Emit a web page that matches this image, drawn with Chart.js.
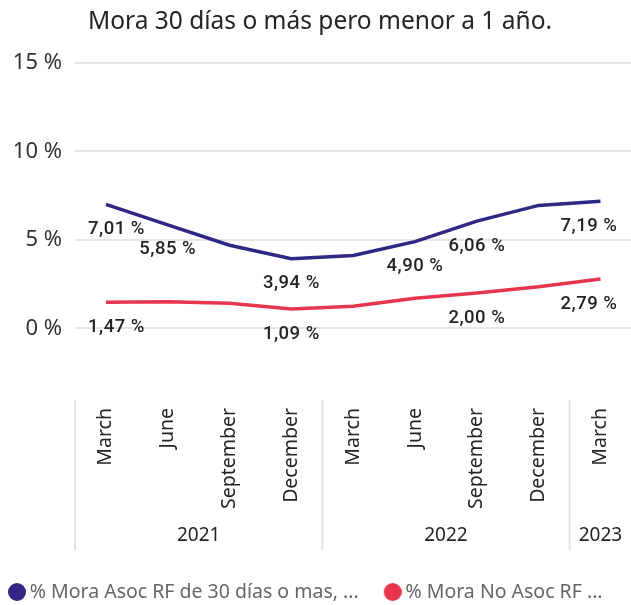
<!DOCTYPE html>
<html><head><meta charset="utf-8">
<script src="https://cdn.jsdelivr.net/npm/chart.js@4/dist/chart.umd.min.js"></script>
<style>
html,body{margin:0;padding:0;background:#fff;overflow:hidden;width:631px;height:605px}
#wrap{position:absolute;left:0;top:0;width:640px;height:605px}
</style></head><body>
<div id="wrap"><canvas id="c" width="640" height="605"></canvas></div>
<script>
const months = ['March','June','September','December','March','June','September','December','March'];
const years = ['2021','2021','2021','2021','2022','2022','2022','2022','2023'];
const asocValues = [7.01, 5.85, 4.70, 3.94, 4.12, 4.90, 6.06, 6.95, 7.19];
const noAsocValues = [1.47, 1.50, 1.42, 1.09, 1.25, 1.70, 2.00, 2.35, 2.79];
const asocLabelIdx = [0, 1, 3, 5, 6, 8];
const noAsocLabelIdx = [0, 3, 6, 8];
const seriesNames = ['% Mora Asoc RF de 30 días o mas, ...', '% Mora No Asoc RF ...'];
const yTickValues = [0, 5, 10, 15];
const titleText = 'Mora 30 días o más pero menor a 1 año.';

const BLUE = '#2f2784';
const RED = '#e8354f';
const fmt = v => v.toFixed(2).replace('.', ',') + ' %';

// legend marker: circle placed at the right part of a small canvas so the gap to the text is small
function marker(color) {
  const c = document.createElement('canvas');
  c.width = 24; c.height = 18;
  const g = c.getContext('2d');
  g.fillStyle = color;
  g.beginPath();
  g.arc(15, 9, 9, 0, Math.PI * 2);
  g.fill();
  return c;
}

const titlePlugin = {
  id: 'centeredTitle',
  afterDraw(chart) {
    const ctx = chart.ctx;
    ctx.save();
    ctx.font = '24.5px "Noto Sans"';
    ctx.fillStyle = '#252423';
    ctx.textAlign = 'center';
    ctx.textBaseline = 'middle';
    ctx.fillText(titleText, chart.width / 2, 22);
    ctx.restore();
  }
};

const labelPlugin = {
  id: 'valueLabels',
  afterDatasetsDraw(chart) {
    const ctx = chart.ctx, a = chart.chartArea;
    ctx.save();
    ctx.font = '500 18.5px Roboto';
    try { ctx.letterSpacing = '0.5px'; } catch (e) {}
    ctx.fillStyle = '#252423';
    ctx.textBaseline = 'middle';
    ctx.textAlign = 'left';
    chart.data.datasets.forEach((ds, di) => {
      const meta = chart.getDatasetMeta(di);
      ds.labelIdx.forEach(i => {
        const p = meta.data[i];
        const txt = fmt(ds.data[i]);
        const w = ctx.measureText(txt).width;
        let x = p.x - w / 2;
        x = Math.max(a.left + 13, Math.min(a.right - 14 - w, x));
        ctx.fillText(txt, x, p.y + 25);
      });
    });
    ctx.restore();
  }
};

const yearPlugin = {
  id: 'yearGroups',
  afterDraw(chart) {
    const ctx = chart.ctx, xs = chart.scales.x;
    const half = (xs.getPixelForValue(1) - xs.getPixelForValue(0)) / 2;
    ctx.save();
    ctx.strokeStyle = '#e3e3e3';
    ctx.lineWidth = 2;
    ctx.fillStyle = '#252423';
    ctx.font = '19px "Noto Sans"';
    ctx.textAlign = 'center';
    ctx.textBaseline = 'middle';
    let start = 0;
    for (let i = 1; i <= years.length; i++) {
      if (i === years.length || years[i] !== years[start]) {
        const l = xs.getPixelForValue(start) - half;
        const r = xs.getPixelForValue(i - 1) + half;
        ctx.beginPath();
        ctx.moveTo(l, xs.top + 8);
        ctx.lineTo(l, xs.bottom - 7);
        ctx.stroke();
        ctx.fillText(years[start], (l + r) / 2, xs.bottom - 21.5);
        start = i;
      }
    }
    ctx.restore();
  }
};

new Chart(document.getElementById('c'), {
  type: 'line',
  data: {
    labels: months,
    datasets: [
      { label: seriesNames[0], data: asocValues, labelIdx: asocLabelIdx, borderColor: BLUE, backgroundColor: BLUE, borderWidth: 3.5, pointRadius: 0, pointStyle: marker(BLUE), tension: 0 },
      { label: seriesNames[1], data: noAsocValues, labelIdx: noAsocLabelIdx, borderColor: RED, backgroundColor: RED, borderWidth: 3.5, pointRadius: 0, pointStyle: marker(RED), tension: 0 }
    ]
  },
  options: {
    responsive: false,
    animation: false,
    devicePixelRatio: 1,
    layout: { padding: { left: -17, right: 2, top: 63, bottom: -6.75 } },
    plugins: {
      title: { display: false },
      legend: {
        position: 'bottom', align: 'start',
        labels: { usePointStyle: true, boxWidth: 12, boxHeight: 12, color: '#666', font: { family: 'Noto Sans', size: 19.5 }, padding: 25 }
      },
      tooltip: { enabled: false }
    },
    scales: {
      x: {
        offset: true,
        grid: { display: false, drawTicks: false },
        border: { display: false },
        ticks: { color: '#252423', font: { family: 'Noto Sans', size: 19.5 }, minRotation: 90, maxRotation: 90, padding: 16, autoSkip: false },
        afterFit(s) { s.height = 165.25; }
      },
      y: {
        min: -3.6, max: 15,
        afterBuildTicks(s) { s.ticks = yTickValues.map(v => ({ value: v })); },
        afterFit(s) { s.width = 92; },
        grid: { color: '#e6e6e6', lineWidth: 2, drawTicks: false },
        border: { display: false },
        ticks: { color: '#333', font: { family: 'Noto Sans', size: 22 }, padding: 13, callback: v => v + ' %' }
      }
    }
  },
  plugins: [labelPlugin, yearPlugin, titlePlugin]
});
</script>
</body></html>
